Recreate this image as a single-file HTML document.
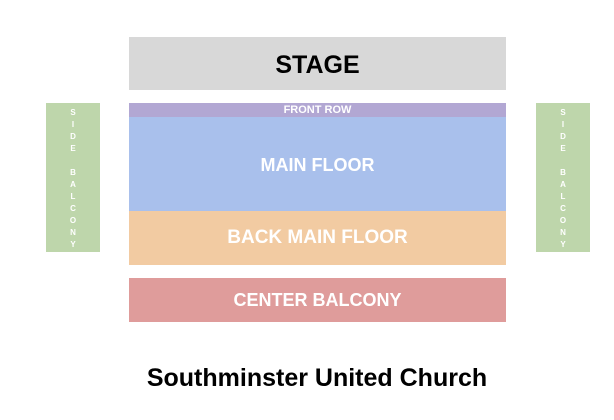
<!DOCTYPE html>
<html><head><style>
body{margin:0;width:614px;height:420px;background:#fff;position:relative;overflow:hidden;font-family:"Liberation Sans",sans-serif;font-weight:bold}
.b{position:absolute;display:flex;align-items:center;justify-content:center;color:#fff}
.side{position:absolute;top:103px;width:54px;height:149px;background:#bed6ab;color:#fff;font-size:8px;text-align:center;line-height:12px;padding-top:4px;box-sizing:border-box}
</style></head><body>
<div class="b" style="left:129px;top:37px;width:377px;height:53px;background:#d8d8d8;color:#000;font-size:25px;padding-top:4px;box-sizing:border-box">STAGE</div>
<div class="b" style="left:129px;top:103px;width:377px;height:14px;background:#b2a7d3;font-size:11px">FRONT ROW</div>
<div class="b" style="left:129px;top:117px;width:377px;height:94px;background:#a9c0ec;font-size:18px;padding-top:2px;box-sizing:border-box">MAIN FLOOR</div>
<div class="b" style="left:129px;top:211px;width:377px;height:54px;background:#f2cba2;font-size:19px">BACK MAIN FLOOR</div>
<div class="b" style="left:129px;top:278px;width:377px;height:44px;background:#df9c9b;font-size:18px">CENTER BALCONY</div>
<div class="side" style="left:46px">S<br>I<br>D<br>E<br>&nbsp;<br>B<br>A<br>L<br>C<br>O<br>N<br>Y</div>
<div class="side" style="left:536px">S<br>I<br>D<br>E<br>&nbsp;<br>B<br>A<br>L<br>C<br>O<br>N<br>Y</div>
<div style="position:absolute;left:0;width:634px;top:364px;text-align:center;font-size:25px;color:#000">Southminster United Church</div>
</body></html>
